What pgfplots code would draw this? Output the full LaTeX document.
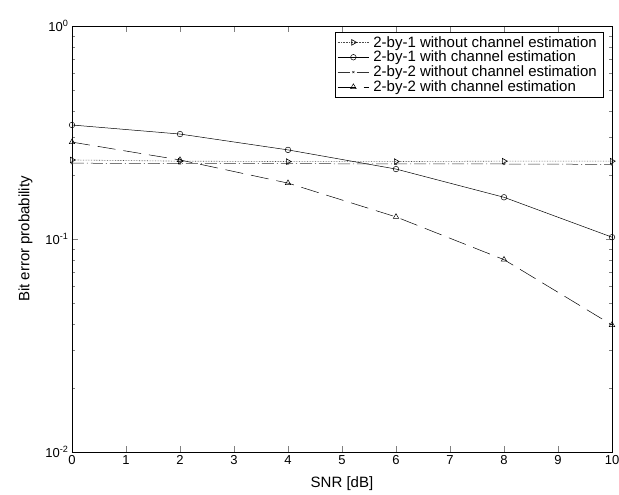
\documentclass[border=0pt]{standalone}
\usepackage{pgfplots}
\pgfplotsset{compat=1.18}
\usepackage{fontspec}
\setmainfont{Liberation Sans}
\begin{document}
\begin{tikzpicture}
\begin{axis}[
  scale only axis,
  width=540pt, height=426pt,
  ymode=log,
  xmin=0, xmax=10, ymin=1e-2, ymax=1,
  xtick={0,1,...,10},
  ytick={1e-2,1e-1,1},
  yticklabels={10\textsuperscript{-2},10\textsuperscript{-1},10\textsuperscript{0}},
  tick align=inside,
  tick pos=both,
  axis line style={black, line width=0.6pt},
  major tick length=6pt, minor tick length=3.5pt,
  xlabel={SNR [dB]},
  ylabel={Bit error probability},
  label style={font=\fontsize{15}{17}\selectfont},
  tick label style={font=\fontsize{13}{15}\selectfont},
  /pgf/number format/assume math mode=true,
  xlabel style={yshift=-5pt},
  ylabel style={yshift=6pt},
  legend cell align=left,
  legend style={at={(1,1)}, anchor=north east, xshift=-9pt, yshift=-6pt,
    font=\fontsize{15}{17}\selectfont, draw=black, fill=white, inner sep=2pt, row sep=-1.5pt,
    nodes={inner xsep=4pt}},
  legend image code/.code={\draw[#1] (0cm,0cm) -- (1.1cm,0cm) plot coordinates {(0.55cm,0cm)};},
]
\addplot[black!70, densely dotted, line width=0.6pt, mark=triangle, mark options={solid, rotate=-90, black, scale=1.6}]
  coordinates {(0,0.235) (2,0.232) (4,0.231) (6,0.231) (8,0.232) (10,0.232)};
\addlegendentry{2-by-1 without channel estimation}
\addplot[black, line width=0.5pt, mark=o, mark options={solid, scale=1.4}]
  coordinates {(0,0.343) (2,0.311) (4,0.262) (6,0.213) (8,0.157) (10,0.102)};
\addlegendentry{2-by-1 with channel estimation}
\addplot[black!80, dash pattern=on 12pt off 3pt on 1pt off 3pt, line width=0.5pt, mark=x, mark options={solid, scale=0.7}]
  coordinates {(0,0.227) (2,0.226) (4,0.226) (6,0.225) (8,0.225) (10,0.224)};
\addlegendentry{2-by-2 without channel estimation}
\addplot[black, dash pattern=on 18pt off 8pt, line width=0.5pt, mark=triangle, mark options={solid, scale=1.6}]
  coordinates {(0,0.285) (2,0.235) (4,0.183) (6,0.127) (8,0.080) (10,0.0395)};
\addlegendentry{2-by-2 with channel estimation}
\end{axis}
\pgfresetboundingbox
\path[use as bounding box] ([shift={(-72pt,-43pt)}]current axis.south west) rectangle ([shift={(7pt,26pt)}]current axis.north east);
\end{tikzpicture}
\end{document}
